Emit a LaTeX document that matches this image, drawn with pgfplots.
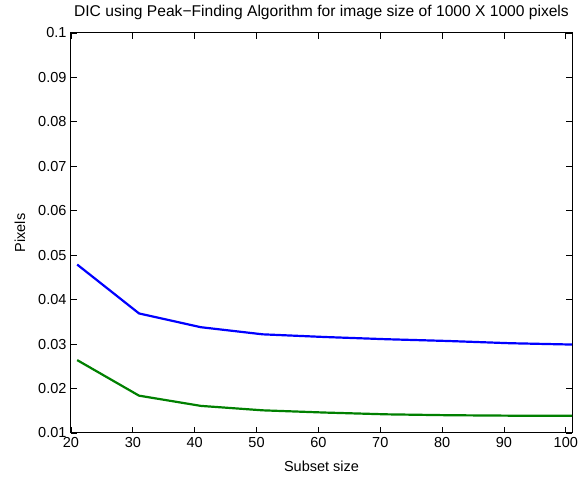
\documentclass[border=0pt]{standalone}
\usepackage{fontspec}
\setmainfont{Liberation Sans}
\usepackage{pgfplots}
\pgfplotsset{compat=1.18}
\begin{document}
\begin{tikzpicture}
\begin{axis}[
  name=ax,
  scale only axis,
  width=501pt, height=400pt,
  xmin=20, xmax=101, ymin=0.01, ymax=0.1,
  xtick={20,30,...,100},
  ytick={0.01,0.02,0.03,0.04,0.05,0.06,0.07,0.08,0.09,0.1},
  yticklabels={0.01,0.02,0.03,0.04,0.05,0.06,0.07,0.08,0.09,0.1},
  tick align=inside,
  major tick length=6pt,
  axis line style={line width=1pt},
  every tick/.style={black, line width=0.8pt},
  /pgf/number format/assume math mode=true,
  tick label style={font=\fontsize{14.5}{16}\selectfont},
  label style={font=\fontsize{14.5}{16}\selectfont},
  every axis title shift=0pt,
  title style={font=\fontsize{15.6}{17}\selectfont, at={(axis description cs:0.5,1)}, anchor=center, yshift=21pt},
  title={DIC using Peak−Finding Algorithm for image size of 1000 X 1000 pixels},
  xlabel={Subset size},
  ylabel={Pixels},
  xlabel style={at={(axis description cs:0.5,0)}, anchor=center, yshift=-33pt},
  ylabel style={at={([xshift=-51pt]axis description cs:0,0.5)}, anchor=center},
  yticklabel style={xshift=-1pt},
  xticklabel style={yshift=-1pt},
]
\addplot[blue, line width=2.2pt] coordinates {
(21,0.0479) (31,0.0369) (41,0.0338) (51,0.0322) (61,0.0316) (71,0.0311) (81,0.0307) (91,0.0302) (101,0.0299)};
\addplot[color={rgb,1:red,0;green,0.5;blue,0}, line width=2.2pt] coordinates {
(21,0.0264) (31,0.0184) (41,0.0161) (51,0.0151) (61,0.0146) (71,0.0142) (81,0.0140) (91,0.0139) (101,0.0139)};
\end{axis}
\pgfresetboundingbox
\path[use as bounding box] ([shift={(-71pt,-46pt)}]ax.south west) rectangle ([shift={(9pt,33pt)}]ax.north east);
\end{tikzpicture}
\end{document}
